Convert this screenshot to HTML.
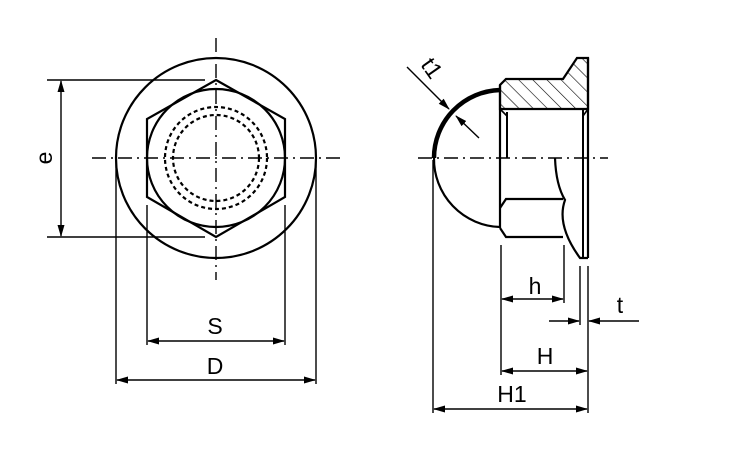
<!DOCTYPE html>
<html><head><style>html,body{margin:0;padding:0;background:#fff}svg{display:block}</style></head>
<body>
<svg width="750" height="450" viewBox="0 0 750 450" xmlns="http://www.w3.org/2000/svg" font-family="Liberation Sans, sans-serif">
<defs>
<marker id="a" markerWidth="12" markerHeight="8" refX="11" refY="4" orient="auto" markerUnits="userSpaceOnUse"><path d="M0,0.5 L12,4 L0,7.5z" fill="#000"/></marker>
<marker id="b" markerWidth="12" markerHeight="8" refX="1" refY="4" orient="auto" markerUnits="userSpaceOnUse"><path d="M12,0.5 L0,4 L12,7.5z" fill="#000"/></marker>
<pattern id="h" width="10" height="10" patternUnits="userSpaceOnUse" patternTransform="rotate(-45)"><line x1="0" y1="0" x2="0" y2="10" stroke="#000" stroke-width="1.2"/></pattern>
</defs>
<g fill="none" stroke="#000" stroke-width="1.4">
<!-- left view -->
<line x1="216" y1="38" x2="216" y2="280" stroke-dasharray="14,5,2,5"/>
<line x1="92" y1="158" x2="340" y2="158" stroke-dasharray="14,5,2,5"/>
<circle cx="216" cy="158" r="100" stroke-width="2.2"/>
<circle cx="216" cy="158" r="69" stroke-width="2.2"/>
<polygon points="216,80 285,119 285,197 216,237 147,197 147,119" stroke-width="2.2"/>
<circle cx="216" cy="158" r="51" stroke-width="2.2" stroke-dasharray="4,3"/>
<circle cx="216" cy="158" r="43" stroke-width="2.2" stroke-dasharray="4,3"/>
<line x1="47" y1="80" x2="205" y2="80"/>
<line x1="47" y1="237" x2="205" y2="237"/>
<line x1="61" y1="81" x2="61" y2="236" marker-start="url(#b)" marker-end="url(#a)"/>
<line x1="147" y1="205" x2="147" y2="345"/>
<line x1="285" y1="205" x2="285" y2="345"/>
<line x1="148" y1="341" x2="284" y2="341" marker-start="url(#b)" marker-end="url(#a)"/>
<line x1="116" y1="160" x2="116" y2="384"/>
<line x1="316" y1="160" x2="316" y2="384"/>
<line x1="117" y1="380" x2="315" y2="380" marker-start="url(#b)" marker-end="url(#a)"/>
<!-- right view -->
<line x1="418" y1="158" x2="608" y2="158" stroke-dasharray="14,5,2,5"/>
<polygon points="506,79 563,79 577,58 588,58 588,109 500,109 500,85" fill="url(#h)" stroke-width="2.2"/>
<path d="M500,227 A68,68 0 0 1 434,158" stroke-width="2.2"/>
<path d="M500,90 A68,68 0 0 0 434,158" stroke-width="4.5"/>
<line x1="500" y1="85" x2="500" y2="228" stroke-width="2.2"/>
<line x1="588" y1="58" x2="588" y2="258" stroke-width="2.2"/>
<line x1="583" y1="109" x2="583" y2="258" stroke-width="2"/>
<line x1="507" y1="112" x2="507" y2="158" stroke-width="2"/>
<line x1="500" y1="109" x2="507" y2="116" stroke-width="1.6"/>
<line x1="588" y1="109" x2="583" y2="116" stroke-width="1.6"/>
<polyline points="500,208 506,199 563,199" stroke-width="2.2"/>
<polyline points="500,228 506,237 563,237" stroke-width="2.2"/>
<path d="M555,158 Q556,185 565,200 Q556,225 580,258 L588,258" stroke-width="2.2"/>
<!-- t1 -->
<line x1="407" y1="67" x2="449" y2="109" marker-end="url(#a)"/>
<line x1="479" y1="138" x2="456" y2="116" marker-end="url(#a)"/>
<!-- dims -->
<line x1="433" y1="160" x2="433" y2="413"/>
<line x1="501" y1="245" x2="501" y2="375"/>
<line x1="564" y1="245" x2="564" y2="303"/>
<line x1="580" y1="266" x2="580" y2="325"/>
<line x1="588" y1="266" x2="588" y2="413"/>
<line x1="502" y1="299" x2="563" y2="299" marker-start="url(#b)" marker-end="url(#a)"/>
<line x1="549" y1="321" x2="579" y2="321" marker-end="url(#a)"/>
<line x1="639" y1="321" x2="589" y2="321" marker-end="url(#a)"/>
<line x1="502" y1="371" x2="587" y2="371" marker-start="url(#b)" marker-end="url(#a)"/>
<line x1="434" y1="409" x2="587" y2="409" marker-start="url(#b)" marker-end="url(#a)"/>
</g>
<g font-size="23" fill="#000" text-anchor="middle">
<text x="46" y="158" transform="rotate(-90 46 158)" dominant-baseline="middle">e</text>
<text x="215" y="334">S</text>
<text x="215" y="374">D</text>
<text x="535" y="294">h</text>
<text x="620" y="313">t</text>
<text x="545" y="364">H</text>
<text x="512" y="402">H1</text>
<text x="432" y="76" transform="rotate(55 432 68)">t1</text>
</g>
</svg>
</body></html>
